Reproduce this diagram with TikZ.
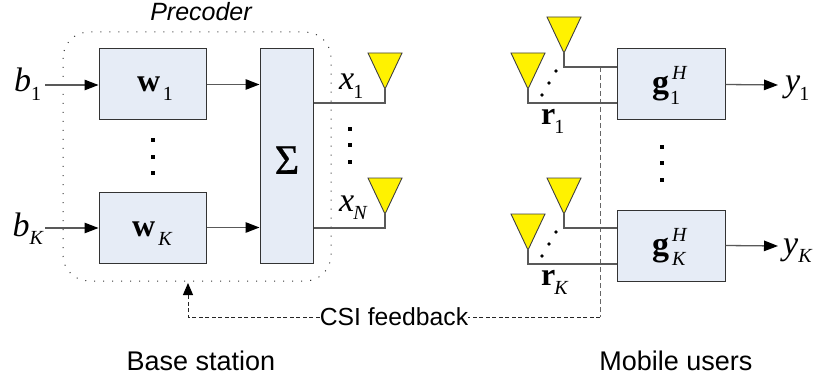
\documentclass[tikz,border=0pt]{standalone}
\usepackage{fontspec}
\setmainfont{Liberation Sans}
\newfontfamily\serifm{Liberation Serif}
\newfontfamily\sigmaf[FakeBold=0.8]{Liberation Serif}
\usetikzlibrary{arrows.meta,calc}
\newcommand{\fs}[1]{\fontsize{#1}{#1}\selectfont}
% italic symbol with a subscript: kern, symbol, subscript
\newcommand{\sym}[3][0]{{\serifm\fs{34}\textit{#2}\kern#1pt\raisebox{-8.5pt}{\fs{20}#3}}}
\newcommand{\bsym}[3][0]{{\serifm\fs{32}\textbf{#2}\kern#1pt\raisebox{-9pt}{\fs{20}#3}}}
\newcommand{\antenna}[3]{%
  \path[antfill] (#2-17,#3) -- (#2+17,#3) -- (#2,#3+36) -- cycle;
  \coordinate (#1) at (#2,#3+36);}
\tikzset{
  x=1pt,y=-1pt,
  blockbox/.style={draw=black!80,fill=boxblue,line width=1pt,inner sep=0pt,minimum width=#1},
  antfill/.style={draw=black!75,fill=yellow,line width=0.9pt,line join=miter},
  wire/.style={draw=black!65,line width=1.3pt},
  sig/.style={wire,-{Triangle[length=14pt,width=10.5pt,fill=black,color=black]}},
  lbl/.style={inner sep=0pt,anchor=base west},
  dotm/.style={fill=black,minimum size=4pt,inner sep=0pt,draw=none,rectangle},
  dotr/.style={fill=black,minimum size=3.6pt,inner sep=0pt,draw=none,circle},
  dashg/.style={draw=black!60,line width=1pt,dash pattern=on 5pt off 3pt},
  dashk/.style={draw=black!85,line width=0.9pt,dash pattern=on 4pt off 2.5pt}
}
\definecolor{boxblue}{HTML}{E6ECF6}
\begin{document}
\begin{tikzpicture}
\useasboundingbox (0,0) rectangle (818,382);
% precoder frame
\draw[black!80,line width=1pt,dash pattern=on 1pt off 8pt,rounded corners=26pt] (63,32) rectangle (331,281);
\node[font=\fs{25}\itshape] (prec) at (201,12) {Precoder};
% blocks
\node[blockbox=107pt,minimum height=71pt] (w1) at (152.5,84.5) {};
\node[blockbox=107pt,minimum height=71pt] (wK) at (152.5,227.5) {};
\node[blockbox=53pt,minimum height=214pt] (sum) at (286.5,156) {};
\node[blockbox=108pt,minimum height=71pt] (g1) at (671,84.5) {};
\node[blockbox=108pt,minimum height=71pt] (gK) at (671,245.5) {};
\node[lbl] (w1t) at (137,92) {\bsym[2.5]{w}{1}};
\node[lbl] (wKt) at (132,236) {\bsym[3]{w}{\textit{K}}};
\node[font=\sigmaf\fs{42}] (sumt) at (287,160) {Σ};
\node[lbl] (g1s) at (652,94) {{\serifm\fs{34}\textbf{g}}};
\node[lbl] (gKs) at (652,255) {{\serifm\fs{34}\textbf{g}}};
\node[lbl,font=\serifm\fs{20}] (g1h) at (672,80) {\textit{H}};
\node[lbl,font=\serifm\fs{20}] (g1u) at (670,105) {1};
\node[lbl,font=\serifm\fs{20}] (gKh) at (672,241) {\textit{H}};
\node[lbl,font=\serifm\fs{20}] (gKu) at (672,265) {\textit{K}};
% inputs/outputs
\node[lbl] (b1) at (14,92) {\sym[0]{b}{1}};
\node[lbl] (bK) at (12.5,236) {\sym[0]{b}{\textit{K}}};
\node[lbl] (x1) at (339,90) {\sym[-1]{x}{1}};
\node[lbl] (xN) at (339,211) {\sym[-1]{x}{\textit{N}}};
\node[lbl] (y1) at (785,92) {\sym[-1]{y}{1}};
\node[lbl] (yK) at (783,254) {\sym[0]{y}{\textit{K}}};
\node[lbl] (r1) at (541,125) {\bsym[-1]{r}{1}};
\node[lbl] (rK) at (541,285) {\bsym[-1]{r}{\textit{K}}};
% coordinates for free ends
\coordinate (b1s) at (45,85);
\coordinate (bKs) at (45,228);
\coordinate (y1e) at (778,85);
\coordinate (yKe) at (778,246);
% signal arrows
\draw[sig] (b1s) -- (w1.west |- b1s);
\draw[sig] (bKs) -- (wK.west |- bKs);
\draw[sig] (w1.east) -- (sum.west |- w1.east);
\draw[sig] (wK.east) -- (sum.west |- wK.east);
\draw[sig] (g1.east) -- (y1e);
\draw[sig] (gK.east) -- (yKe);
% feedback (drawn under the antenna feed wires)
\coordinate (fbtop) at (600,67);
\coordinate (fbcorner) at (600,317);
\coordinate (fbleft) at (188,317);
\coordinate (fbtip) at (188,283);
\node[font=\fs{24.7},fill=white,inner xsep=0pt,inner ysep=1pt] (csi) at (394,317) {CSI feedback};
\draw[dashg] (fbtop) -- (fbcorner);
\draw[dashk] (fbcorner) -- (csi.east);
\draw[dashk,-{Triangle[length=12pt,width=10pt,fill=black,color=black,sep=0pt]}] (csi.west) -- (fbleft) -- (fbtip);
% antennas
\antenna{t1}{385}{53}
\antenna{t2}{385}{178}
\antenna{ra}{564}{17}
\antenna{rb}{528}{53}
\antenna{rc}{564}{178}
\antenna{rd}{528}{214}
\draw[wire] (sum.east |- 0,103) -- (385,103) -- (t1);
\draw[wire] (sum.east |- 0,228) -- (385,228) -- (t2);
\draw[wire] (ra) -- (564,67) -- (g1.west |- 0,67);
\draw[wire] (rb) -- (528,103) -- (g1.west |- 0,103);
\draw[wire] (rc) -- (564,228) -- (gK.west |- 0,228);
\draw[wire] (rd) -- (528,264) -- (gK.west |- 0,264);
% ellipsis dots
\foreach \n/\x/\y in {a/153/140,b/153/157,c/153/173,d/350/129,e/350/145,f/350/162,g/662/147,h/662/163,i/662/180}
  \node[dotm] (m\n) at (\x,\y) {};
\foreach \n/\x/\y in {a/556/71,b/549/83,c/542/95,d/556/232,e/549/244,f/542/256}
  \node[dotr] (q\n) at (\x,\y) {};
% captions
\node[font=\fs{27}] (bs) at (201,361) {Base station};
\node[font=\fs{27}] (mu) at (676,361) {Mobile users};
\end{tikzpicture}
\end{document}
